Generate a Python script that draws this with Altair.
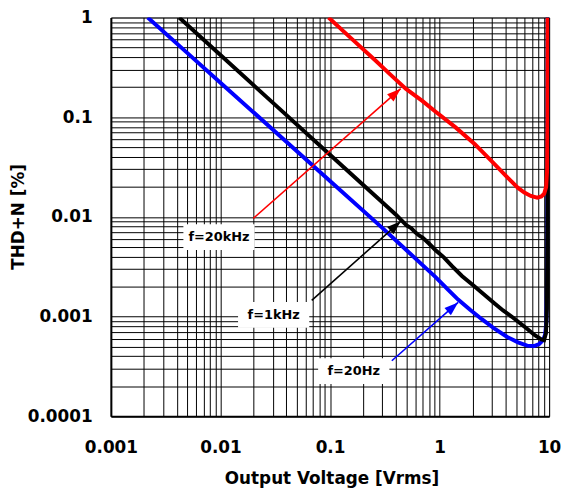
import math
import altair as alt
import pandas as pd

# ---------------- data ----------------
blue_v = [0.00217, 0.005, 0.01, 0.03, 0.1, 0.3, 0.491, 0.7, 0.915, 1.2, 1.476, 1.9,
          2.43, 3.2, 4.18, 5.2, 6.3, 7.3, 8.1, 8.8, 9.2, 9.45, 9.6, 9.7]
blue_thd = [1.0, 0.439, 0.222, 0.0751, 0.0229, 0.00775, 0.0047, 0.00328, 0.0025, 0.00185,
            0.00148, 0.00117, 0.00094, 0.00075, 0.00062, 0.00055, 0.00051, 0.000505,
            0.00053, 0.00058, 0.00066, 0.0009, 0.003, 1.0]

black_v = [0.0042, 0.01, 0.03, 0.1, 0.2, 0.3, 0.4, 0.45, 0.5, 0.55, 0.6, 0.65, 0.7, 0.8,
           0.915, 1.1, 1.3, 1.6, 2.0, 2.5, 3.18, 3.8, 4.54, 5.4, 6.33, 7.4, 8.5, 9.0,
           9.35, 9.55, 9.65, 9.7]
black_thd = [1.0, 0.42, 0.14, 0.042, 0.021, 0.014, 0.0105, 0.0092, 0.0082, 0.0077, 0.0070,
             0.0065, 0.0062, 0.0054, 0.00465, 0.0039, 0.0032, 0.00255, 0.00208, 0.00169,
             0.00135, 0.00115, 0.0010, 0.00086, 0.00075, 0.00065, 0.00059, 0.00058,
             0.00068, 0.0012, 0.01, 1.0]

red_v = [0.097, 0.15, 0.263, 0.35, 0.491, 0.7, 0.915, 1.4, 2.1, 3.0, 4.18, 5.2, 5.94,
         6.8, 7.79, 8.5, 9.02, 9.4, 9.6, 9.68, 9.7]
red_thd = [1.0, 0.643, 0.366, 0.272, 0.193, 0.145, 0.114, 0.079, 0.0536, 0.036, 0.0247,
           0.0195, 0.0175, 0.0162, 0.0156, 0.016, 0.0171, 0.02, 0.03, 0.1, 1.0]

# annotations
ann_text = ["f=20kHz", "f=1kHz", "f=20Hz"]
ann_color = ["#FF0000", "#000000", "#0000FF"]
ann_tx = [0.0097, 0.0306, 0.1647]
ann_ty = [0.00626, 0.00104, 0.000283]
arr_x1 = [0.01995, 0.0681, 0.3666]
arr_y1 = [0.00966, 0.00145, 0.00036]
arr_x2 = [0.442, 0.442, 1.476]
arr_y2 = [0.193, 0.00902, 0.001385]

x_grid = [m * d for d in [0.001, 0.01, 0.1, 1] for m in range(1, 10)] + [10]
y_grid = [m * d for d in [0.0001, 0.001, 0.01, 0.1] for m in range(1, 10)] + [1]

W, H = 443, 403
FONT = "DejaVu Sans"

# ---------------- tables ----------------
def curve(v, t):
    return pd.DataFrame({"v": v, "thd": t, "i": range(len(v))})

df_blue = curve(blue_v, blue_thd)
df_black = curve(black_v, black_thd)
df_red = curve(red_v, red_thd)

px_x = W / 4.0
px_y = H / 4.0
angles = []
for a, b, c, d in zip(arr_x1, arr_y1, arr_x2, arr_y2):
    dx = px_x * math.log10(c / a)
    up = px_y * math.log10(d / b)
    angles.append(math.degrees(math.atan2(dx, up)) % 360)

df_ann = pd.DataFrame({
    "text": ann_text, "color": ann_color, "tx": ann_tx, "ty": ann_ty,
    "x1": arr_x1, "y1": arr_y1, "x2": arr_x2, "y2": arr_y2, "angle": angles,
})

xs = alt.Scale(type="log", domain=[0.001, 10], nice=False)
ys = alt.Scale(type="log", domain=[0.0001, 1], nice=False)

label_expr = ("abs(log(datum.value)/LN10 - round(log(datum.value)/LN10)) < 0.001 "
              "? format(datum.value, '~g') : ''")

x_axis = alt.Axis(values=x_grid, grid=True, gridColor="#000000", gridWidth=1, gridOpacity=1,
                  ticks=False, tickSize=0, labelExpr=label_expr, labelOverlap=False,
                  labelFlush=False, labelFont=FONT, labelFontWeight="bold", labelFontSize=17,
                  labelColor="#000000", labelPadding=24,
                  domainColor="#000000", domainWidth=2,
                  title="Output Voltage [Vrms]", titleFont=FONT, titleFontWeight="bold",
                  titleFontSize=17, titleColor="#000000", titleX=223, titleY=68,
                  titleBaseline="alphabetic", titleAlign="center")
y_axis = alt.Axis(values=y_grid, grid=True, gridColor="#000000", gridWidth=1, gridOpacity=1,
                  ticks=False, tickSize=0, labelExpr=label_expr, labelOverlap=False,
                  labelFlush=False, labelFont=FONT, labelFontWeight="bold", labelFontSize=17,
                  labelColor="#000000", labelPadding=19,
                  domainColor="#000000", domainWidth=2,
                  title="THD+N [%]", titleFont=FONT, titleFontWeight="bold",
                  titleFontSize=17, titleColor="#000000", titleAngle=270,
                  titleX=-88, titleY=201, titleBaseline="alphabetic", titleAlign="center")

base_axes = alt.Chart(df_blue).mark_line(strokeWidth=4, color="#0000FF", clip=True).encode(
    x=alt.X("v:Q", scale=xs, axis=x_axis),
    y=alt.Y("thd:Q", scale=ys, axis=y_axis),
    order="i:Q",
)

def line(df, color):
    return alt.Chart(df).mark_line(strokeWidth=4, color=color, clip=True).encode(
        x=alt.X("v:Q", scale=xs),
        y=alt.Y("thd:Q", scale=ys),
        order="i:Q",
    )

arrow_lines = alt.Chart(df_ann).mark_rule(strokeWidth=1.6).encode(
    x=alt.X("x1:Q", scale=xs), y=alt.Y("y1:Q", scale=ys),
    x2="x2:Q", y2="y2:Q",
    color=alt.Color("color:N", scale=None),
)
arrow_heads = alt.Chart(df_ann).mark_point(
    shape="M0,0L0.7,2L-0.7,2Z", filled=True, opacity=1, size=196, strokeWidth=0
).encode(
    x=alt.X("x2:Q", scale=xs), y=alt.Y("y2:Q", scale=ys),
    angle=alt.Angle("angle:Q", scale=None),
    color=alt.Color("color:N", scale=None),
)
boxes = alt.Chart(df_ann).mark_point(
    shape="M-1,-0.36H1V0.36H-1Z", filled=True, opacity=1, size=5184, strokeWidth=0,
    color="#FFFFFF"
).encode(x=alt.X("tx:Q", scale=xs), y=alt.Y("ty:Q", scale=ys))
texts = alt.Chart(df_ann).mark_text(
    font=FONT, fontWeight="bold", fontSize=13, color="#000000",
    align="center", baseline="middle"
).encode(x=alt.X("tx:Q", scale=xs), y=alt.Y("ty:Q", scale=ys), text="text:N")

chart = alt.layer(
    base_axes, line(df_black, "#000000"), line(df_red, "#FF0000"),
    arrow_lines, arrow_heads, boxes, texts
).properties(
    width=W, height=H,
    padding={"left": 104, "top": 7, "right": 12, "bottom": 72},
    autosize=alt.AutoSizeParams(type="none"),
).configure_view(stroke="#808080", strokeWidth=1)

chart.save("out.html", embed_options={"renderer": "svg", "actions": False})
